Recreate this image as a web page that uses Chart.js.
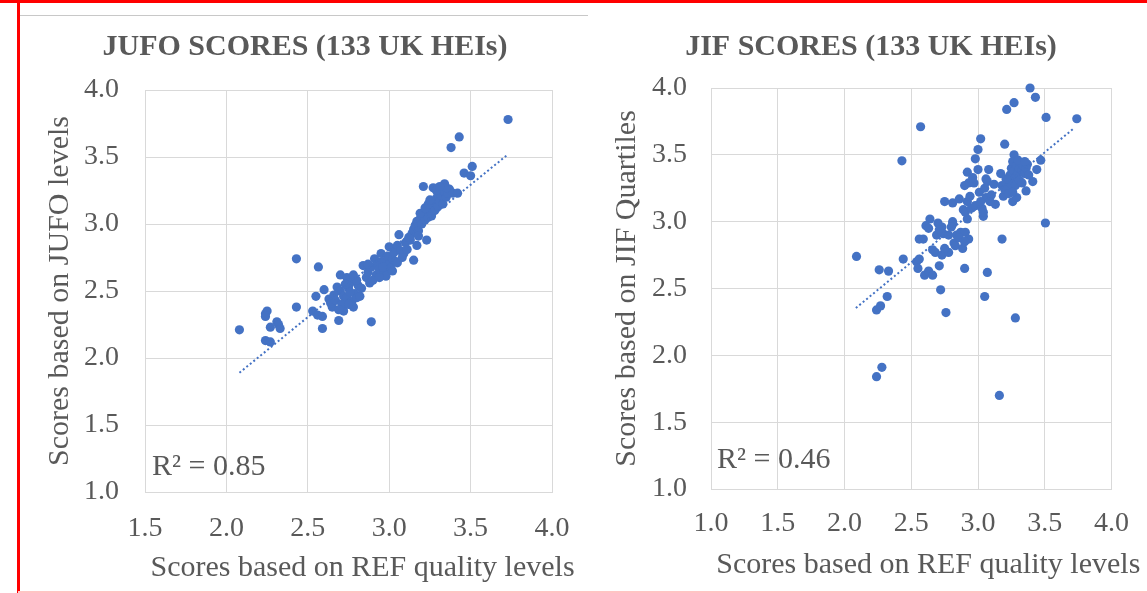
<!DOCTYPE html>
<html><head><meta charset="utf-8">
<script src="https://cdn.jsdelivr.net/npm/chart.js@4.4.1/dist/chart.umd.min.js"></script>
<style>
html,body{margin:0;padding:0;background:#fff;overflow:hidden}
#wrap{position:relative;width:1147px;height:593px}
canvas{position:absolute;top:0}
#c1{left:0}
#c2{left:590px}
.b{position:absolute;z-index:2}
</style></head><body>
<div id="wrap">
<canvas id="c1" width="590" height="593"></canvas>
<canvas id="c2" width="557" height="593"></canvas>
<div class="b" style="left:0;top:0;width:1147px;height:3px;background:#ff0000"></div>
<div class="b" style="left:17px;top:0;width:3px;height:593px;background:#ff0000"></div>
<div class="b" style="left:18px;top:591px;width:1129px;height:2px;background:#ffc4c4"></div>
<div class="b" style="left:20px;top:15px;width:568px;height:1px;background:#c8c8c8"></div>
</div>
<script>
// [REF score, JUFO score] per HEI
const jufoData = [
[2.08,2.21],[2.24,2.33],[2.25,2.35],[2.24,2.31],[2.27,2.23],[2.24,2.13],[2.27,2.12],[2.31,2.27],[2.32,2.25],[2.33,2.22],
[2.43,2.74],[2.43,2.38],[2.53,2.35],[2.56,2.32],[2.59,2.31],[2.59,2.22],[2.55,2.46],[2.565,2.68],[2.60,2.51],[2.63,2.44],
[2.65,2.38],[2.69,2.28],[2.72,2.35],[2.89,2.27],[2.64,2.41],[2.67,2.43],[2.68,2.53],[2.70,2.50],[2.70,2.62],[2.74,2.60],
[2.72,2.46],[2.71,2.40],[2.74,2.45],[2.75,2.52],[2.76,2.56],[2.77,2.42],[2.78,2.38],[2.79,2.48],[2.80,2.45],[2.81,2.54],
[2.82,2.46],[2.80,2.58],[2.78,2.62],[2.73,2.55],[2.75,2.40],[2.69,2.36],[2.84,2.69],[2.86,2.60],[2.87,2.64],[2.88,2.56],
[2.89,2.68],[2.91,2.74],[2.92,2.62],[2.93,2.70],[2.94,2.66],[2.95,2.78],[2.96,2.72],[2.97,2.64],[2.98,2.61],[2.99,2.76],
[3.00,2.83],[3.00,2.70],[3.01,2.67],[3.02,2.74],[3.03,2.79],[3.04,2.72],[3.05,2.84],[3.05,2.71],[3.06,2.92],[3.07,2.80],
[3.09,2.78],[3.11,2.81],[3.15,2.73],[3.17,2.84],[2.96,2.68],[2.90,2.58],
[3.13,2.88],[3.14,2.93],[3.15,2.96],[3.16,2.99],[3.17,3.02],[3.18,2.95],[3.19,3.04],[3.20,3.00],[3.21,3.06],[3.22,3.03],
[3.23,2.88],[3.23,3.08],[3.24,3.05],[3.25,3.10],[3.26,3.12],[3.26,3.06],[3.27,3.14],[3.28,3.16],[3.28,3.10],[3.29,3.19],
[3.30,3.13],[3.30,3.22],[3.31,3.17],[3.32,3.21],[3.33,3.15],[3.34,3.24],[3.35,3.20],[3.36,3.23],[3.37,3.26],[3.39,3.23],
[3.42,3.23],[3.21,3.28],[3.27,3.27],[3.34,3.30],[3.35,3.27],[3.18,2.91],[3.19,3.08],[3.22,3.12],[3.24,3.15],[3.29,3.25],
[3.31,3.28],[3.25,3.18],
[3.38,3.57],[3.43,3.65],[3.51,3.43],[3.46,3.38],[3.50,3.36],[3.73,3.78],
[2.83,2.52],[2.87,2.70],[2.94,2.60],[3.02,2.65],[3.08,2.75],[3.10,2.86],[3.12,2.90],[2.76,2.49],[2.66,2.47]
];
// [REF score, JIF score] per HEI
const jifData = [
[2.09,2.74],[2.24,1.84],[2.28,1.91],[2.24,2.34],[2.27,2.37],[2.32,2.44],[2.26,2.64],[2.33,2.63],[2.44,2.72],[2.43,3.455],
[2.57,3.71],[2.72,2.49],[2.76,2.32],[3.05,2.44],[3.28,2.28],[3.16,1.70],[3.07,2.62],[3.18,2.87],[3.505,2.99],[2.90,2.65],
[2.54,2.70],[2.56,2.72],[2.55,2.65],[2.60,2.60],[2.63,2.63],[2.66,2.60],[2.71,2.67],[2.56,2.87],[2.59,2.87],[2.64,3.02],
[2.61,2.97],[2.63,2.95],[2.72,2.93],[2.73,2.96],[2.70,2.99],[2.74,2.91],[2.66,2.79],[2.68,2.77],[2.73,2.75],[2.78,2.77],
[2.75,2.80],[2.69,2.90],[2.71,2.94],
[2.81,3.00],[2.81,2.98],[2.80,2.96],[2.84,2.90],[2.87,2.92],[2.905,2.92],[2.82,2.84],[2.83,2.82],[2.93,2.87],[2.885,2.80],
[2.86,2.88],[2.90,2.85],[2.92,3.02],[2.75,3.15],[2.81,3.14],[2.86,3.17],[2.92,3.15],[2.94,3.19],[2.89,3.09],[2.905,3.07],
[2.93,3.29],[2.97,3.29],[2.92,3.37],[2.95,3.10],[2.98,3.12],[2.90,3.27],
[3.00,3.39],[3.02,3.62],[3.00,3.54],[2.98,3.47],[3.03,3.10],[3.04,3.04],[3.04,3.07],[3.06,3.18],[3.06,3.32],[3.07,3.30],
[3.08,3.39],[3.13,3.13],[3.10,3.20],[3.01,3.22],[3.05,3.25],[3.09,3.15],[3.02,3.15],
[3.19,3.19],[3.20,3.58],[3.27,3.50],[3.26,3.15],[3.29,3.18],[3.36,3.23],[3.41,3.30],[3.44,3.39],[3.47,3.46],[3.22,3.25],
[3.23,3.30],[3.24,3.35],[3.25,3.40],[3.26,3.45],[3.27,3.38],[3.28,3.33],[3.29,3.42],[3.30,3.36],[3.31,3.40],[3.32,3.44],
[3.33,3.38],[3.34,3.42],[3.35,3.36],[3.36,3.40],[3.37,3.43],[3.25,3.28],[3.21,3.32],[3.18,3.27],[3.20,3.24],[3.23,3.21],
[3.28,3.27],[3.31,3.31],[3.33,3.29],[3.38,3.35],[3.30,3.46],[3.26,3.22],[3.17,3.36],[3.35,3.45],
[3.39,4.00],[3.43,3.93],[3.27,3.89],[3.215,3.84],[3.51,3.78],[3.74,3.77],
[2.96,3.33],[3.12,3.28],[2.78,2.90]
];
// Linear trendline end points (as drawn in the reference)
const jufoTrend = [[2.08,1.89],[3.72,3.51]];
const jifTrend = [[2.085,2.354],[3.72,3.70]];
const jufoR2 = 'R² = 0.85';
const jifR2 = 'R² = 0.46';
const jufoTitle = 'JUFO SCORES (133 UK HEIs)';
const jifTitle = 'JIF SCORES (133 UK HEIs)';
const xAxisTitle = 'Scores based on REF quality levels';
const jufoYTitle = 'Scores based on JUFO levels';
const jifYTitle = 'Scores based on JIF Quartiles';
const jufoXRange = [1.5, 4.0];
const jifXRange = [1.0, 4.0];
const yRange = [1.0, 4.0];
const tickStep = 0.5;

const GRAY = '#595959';
const BLUE = '#4472C4';
const FONT = '"Liberation Serif", "Times New Roman", serif';

// R² label inside the plot and x-axis title (drawn without width squeezing)
const textPlugin = {
  id: 'extraText',
  afterDraw(chart, args, opts) {
    const {ctx, chartArea} = chart;
    ctx.save();
    ctx.fillStyle = GRAY;
    ctx.textBaseline = 'middle';
    ctx.font = '30px ' + FONT;
    ctx.textAlign = 'left';
    ctx.fillText(opts.r2, chartArea.left + opts.r2dx, chartArea.bottom - opts.r2dy);
    ctx.font = '30px ' + FONT;
    ctx.textAlign = 'center';
    ctx.fillText(opts.xTitle, (chartArea.left + chartArea.right) / 2 + opts.xtDx, chart.height - opts.xtDy);
    ctx.restore();
  }
};

function makeChart(id, pts, trend, c) {
  return new Chart(document.getElementById(id), {
    type: 'scatter',
    data: {
      datasets: [
        {
          data: trend.map(([x, y]) => ({x, y})),
          showLine: true,
          borderColor: BLUE,
          borderWidth: 2,
          borderDash: [2, 2.5],
          pointRadius: 0,
          fill: false,
          clip: false
        },
        {
          data: pts.map(([x, y]) => ({x, y})),
          backgroundColor: BLUE,
          borderWidth: 0,
          pointRadius: 4.6,
          pointHoverRadius: 4.6,
          clip: false
        }
      ]
    },
    options: {
      responsive: false,
      animation: false,
      devicePixelRatio: 1,
      layout: {padding: {left: c.padL, right: c.padR, top: 0, bottom: 0}},
      plugins: {
        legend: {display: false},
        tooltip: {enabled: false},
        title: {
          display: true,
          text: c.title,
          color: GRAY,
          font: {family: FONT, size: 30, weight: 'bold', lineHeight: 1.2},
          padding: {top: 29, bottom: c.titlePadB}
        },
        extraText: {r2: c.r2, r2dx: c.r2dx, r2dy: c.r2dy, xTitle: xAxisTitle, xtDx: c.xtDx, xtDy: c.xtDy}
      },
      scales: {
        x: {
          type: 'linear',
          min: c.xRange[0], max: c.xRange[1],
          afterFit(s) { s.height = c.xH; },
          ticks: {
            stepSize: tickStep, color: GRAY, padding: c.xTickPad,
            font: {family: FONT, size: 28},
            callback: v => v.toFixed(1)
          },
          grid: {color: '#d9d9d9', drawTicks: false, lineWidth: 1},
          border: {color: '#d9d9d9'},
          title: {display: false}
        },
        y: {
          type: 'linear',
          min: yRange[0], max: yRange[1],
          afterFit(s) { s.width = c.yW; },
          ticks: {
            stepSize: tickStep, color: GRAY, padding: c.yTickPad,
            font: {family: FONT, size: 28},
            callback: v => v.toFixed(1)
          },
          grid: {color: '#d9d9d9', drawTicks: false, lineWidth: 1},
          border: {color: '#d9d9d9'},
          title: {
            display: true, text: c.yTitle, color: GRAY,
            font: {family: FONT, size: 30, lineHeight: 1.2},
            padding: {top: c.yTitlePadT, bottom: 0}
          }
        }
      }
    },
    plugins: [textPlugin]
  });
}

makeChart('c1', jufoData, jufoTrend, {
  title: jufoTitle, yTitle: jufoYTitle, r2: jufoR2, xRange: jufoXRange,
  padL: 58, padR: 38, yW: 87, xH: 101, titlePadB: 25,
  yTitlePadT: -16, xTickPad: 20, yTickPad: 26,
  r2dx: 7, r2dy: 25, xtDx: 14, xtDy: 25
});
makeChart('c2', jifData, jifTrend, {
  title: jifTitle, yTitle: jifYTitle, r2: jifR2, xRange: jifXRange,
  padL: 33, padR: 28, yW: 88, xH: 104, titlePadB: 23,
  yTitlePadT: -14, xTickPad: 18, yTickPad: 24,
  r2dx: 6, r2dy: 29, xtDx: 17, xtDy: 28
});
</script>
</body></html>
